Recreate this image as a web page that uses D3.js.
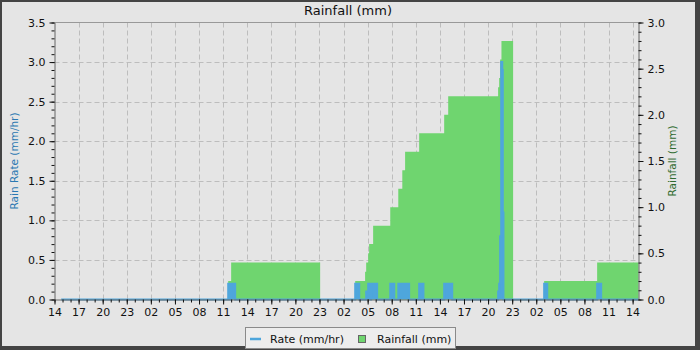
<!DOCTYPE html>
<html>
<head>
<meta charset="utf-8">
<script src="https://cdn.jsdelivr.net/npm/d3@7"></script>
<style>
  html, body { margin: 0; padding: 0; background: #444; }
  svg { display: block; font-family: "DejaVu Sans", sans-serif; }
</style>
</head>
<body>
<div id="viz-container"></div>
<script>
// Rain rate (mm/hr), step values
const rateTimes = [
  "2023-06-12 14:50", "2023-06-13 11:38", "2023-06-13 11:53", "2023-06-13 12:00", "2023-06-13 12:30",
  "2023-06-14 03:27", "2023-06-14 03:57", "2023-06-14 04:49", "2023-06-14 05:04", "2023-06-14 05:19",
  "2023-06-14 05:26", "2023-06-14 06:11", "2023-06-14 07:49", "2023-06-14 08:19", "2023-06-14 08:49",
  "2023-06-14 10:10", "2023-06-14 11:25", "2023-06-14 11:36", "2023-06-14 11:41", "2023-06-14 11:57",
  "2023-06-14 14:32", "2023-06-14 15:32", "2023-06-14 21:15", "2023-06-14 21:23", "2023-06-14 21:30",
  "2023-06-14 21:38", "2023-06-14 21:46", "2023-06-14 21:50", "2023-06-14 21:55",
  "2023-06-15 02:59", "2023-06-15 03:22", "2023-06-15 09:35", "2023-06-15 10:05", "2023-06-15 14:44"
];
const rateValues = [
  0, 0.2, 0, 0.2, 0,
  0.2, 0, 0.1, 0.2, 0,
  0.2, 0, 0.2, 0, 0.2,
  0, 0.2, 0, 0.2, 0,
  0.2, 0, 0.1, 0.2, 0.8,
  3.0, 2.9, 1.1, 0,
  0.2, 0, 0.2, 0, 0
];

// Rainfall (mm), accumulated, step values
const rainTimes = [
  "2023-06-12 14:50", "2023-06-13 11:38", "2023-06-13 12:00", "2023-06-13 23:05",
  "2023-06-14 03:27", "2023-06-14 04:41", "2023-06-14 04:49", "2023-06-14 05:04", "2023-06-14 05:11",
  "2023-06-14 05:41", "2023-06-14 07:49", "2023-06-14 08:49", "2023-06-14 09:19", "2023-06-14 09:40",
  "2023-06-14 11:25", "2023-06-14 14:32", "2023-06-14 15:02", "2023-06-14 21:15", "2023-06-14 21:23",
  "2023-06-14 21:30", "2023-06-14 21:40", "2023-06-14 23:07",
  "2023-06-15 02:59", "2023-06-15 09:35", "2023-06-15 14:44"
];
const rainValues = [
  0, 0.2, 0.4, 0,
  0.2, 0.3, 0.4, 0.5, 0.6,
  0.8, 1.0, 1.2, 1.4, 1.6,
  1.8, 2.0, 2.2, 2.3, 2.4,
  2.6, 2.8, 0,
  0.2, 0.4, 0.4
];

const leftTicks = ["0.0", "0.5", "1.0", "1.5", "2.0", "2.5", "3.0", "3.5"];
const rightTicks = ["0.0", "0.5", "1.0", "1.5", "2.0", "2.5", "3.0"];

const parseTime = d3.timeParse("%Y-%m-%d %H:%M");
const timeStart = parseTime("2023-06-12 14:00");
const timeEnd = parseTime("2023-06-15 14:44");

const rateData = rateTimes.map((t, i) => ({ t: parseTime(t), v: rateValues[i] }));
const rainData = rainTimes.map((t, i) => ({ t: parseTime(t), v: rainValues[i] }));

const W = 700, H = 350;
const plot = { left: 54.5, right: 638.5, top: 22.5, bottom: 299.5 };

const rateColor = "#4ea6dc";
const rainColor = "#6fd56f";
const gridColor = "#bdbdbd";

const svg = d3.select("#viz-container").append("svg")
  .attr("width", W).attr("height", H);

// frame
svg.append("rect").attr("width", W).attr("height", H).attr("fill", "#444");
svg.append("rect").attr("x", 2).attr("y", 2).attr("width", 693).attr("height", 344).attr("fill", "#e5e5e5");

// scales
const x = d3.scaleTime().domain([timeStart, timeEnd]).range([plot.left, plot.right]);
const yLeft = d3.scaleLinear().domain([0, 3.5]).range([plot.bottom, plot.top]);
const yRight = d3.scaleLinear().domain([0, 3.0]).range([plot.bottom, plot.top]);

const majorX = d3.timeHour.range(timeStart, timeEnd, 3);
const minorX = d3.timeHour.range(timeStart, timeEnd);

// grid
const grid = svg.append("g");
grid.selectAll(".vgrid")
  .data(majorX.slice(1)).enter()
  .append("line")
  .attr("x1", d => Math.round(x(d)) + 0.5).attr("x2", d => Math.round(x(d)) + 0.5)
  .attr("y1", plot.top).attr("y2", plot.bottom)
  .style("stroke", gridColor).style("stroke-dasharray", "5,3");
grid.selectAll(".hgrid")
  .data(leftTicks.slice(1, -1).map(Number)).enter()
  .append("line")
  .attr("x1", plot.left).attr("x2", plot.right)
  .attr("y1", d => Math.round(yLeft(d)) + 0.5).attr("y2", d => Math.round(yLeft(d)) + 0.5)
  .style("stroke", gridColor).style("stroke-dasharray", "5,3");

// rainfall area (right axis)
const rainArea = d3.area()
  .x(d => x(d.t))
  .y0(yRight(0))
  .y1(d => yRight(d.v))
  .curve(d3.curveStepAfter);
svg.append("path")
  .attr("d", rainArea(rainData))
  .style("fill", rainColor);

// rate (left axis): dense samples render as solid columns, so fill under the step line
const rateArea = d3.area()
  .x(d => x(d.t))
  .y0(yLeft(0))
  .y1(d => yLeft(d.v))
  .curve(d3.curveStepAfter);
svg.append("path")
  .attr("d", rateArea(rateData))
  .style("fill", rateColor);

const rateLine = d3.line()
  .x(d => x(d.t))
  .y(d => yLeft(d.v))
  .curve(d3.curveStepAfter);
svg.append("path")
  .attr("d", rateLine(rateData))
  .style("fill", "none")
  .style("stroke", rateColor)
  .style("stroke-width", 2);

// top border
svg.append("line")
  .attr("x1", plot.left).attr("x2", plot.right)
  .attr("y1", plot.top).attr("y2", plot.top)
  .style("stroke", "#999");

// axes
const styleAxis = g => {
  g.selectAll("path.domain").style("stroke", "#666");
  g.selectAll("line").style("stroke", "#111");
  g.selectAll("text").style("font-size", "11px").style("fill", "#111")
    .style("font-family", "DejaVu Sans, sans-serif");
};

svg.append("g").attr("transform", `translate(0,${plot.bottom})`)
  .call(d3.axisBottom(x).tickValues(minorX).tickSize(3).tickSizeOuter(0).tickFormat(""))
  .call(styleAxis);
svg.append("g").attr("transform", `translate(0,${plot.bottom})`)
  .call(d3.axisBottom(x).tickValues(majorX).tickSize(5).tickSizeOuter(0).tickPadding(4).tickFormat(d3.timeFormat("%H")))
  .call(g => g.select("path.domain").remove())
  .call(styleAxis);

svg.append("g").attr("transform", `translate(${plot.left},0)`)
  .call(d3.axisLeft(yLeft).tickValues(d3.range(0, 36).map(i => i / 10)).tickSize(3).tickSizeOuter(0).tickFormat(""))
  .call(styleAxis);
svg.append("g").attr("transform", `translate(${plot.left},0)`)
  .call(d3.axisLeft(yLeft).tickValues(leftTicks.map(Number)).tickSize(5).tickPadding(4).tickFormat(d3.format(".1f")))
  .call(g => g.select("path.domain").remove())
  .call(styleAxis);

svg.append("g").attr("transform", `translate(${plot.right},0)`)
  .call(d3.axisRight(yRight).tickValues(d3.range(0, 31).map(i => i / 10)).tickSize(3).tickSizeOuter(0).tickFormat(""))
  .call(styleAxis);
svg.append("g").attr("transform", `translate(${plot.right},0)`)
  .call(d3.axisRight(yRight).tickValues(rightTicks.map(Number)).tickSize(5).tickPadding(4).tickFormat(d3.format(".1f")))
  .call(g => g.select("path.domain").remove())
  .call(styleAxis);

// title
svg.append("text")
  .attr("x", 348).attr("y", 15)
  .attr("text-anchor", "middle")
  .style("font-size", "13px").style("fill", "#111")
  .text("Rainfall (mm)");

// axis titles
svg.append("text")
  .attr("transform", `translate(18,${(plot.top + plot.bottom) / 2}) rotate(-90)`)
  .attr("text-anchor", "middle")
  .style("font-size", "10.5px").style("fill", "#2a78b2")
  .text("Rain Rate (mm/hr)");
svg.append("text")
  .attr("transform", `translate(676,${(plot.top + plot.bottom) / 2}) rotate(-90)`)
  .attr("text-anchor", "middle")
  .style("font-size", "10.5px").style("fill", "#2f6b2f")
  .text("Rainfall (mm)");

// legend
const legend = svg.append("g");
legend.append("rect")
  .attr("x", 245.5).attr("y", 327.5).attr("width", 210).attr("height", 21)
  .style("fill", "#ededed").style("stroke", "#8a8a8a");
legend.append("line")
  .attr("x1", 250).attr("x2", 261).attr("y1", 339).attr("y2", 339)
  .style("stroke", rateColor).style("stroke-width", 2.5);
legend.append("text")
  .attr("x", 270).attr("y", 342.5)
  .style("font-size", "11px").style("fill", "#111")
  .text("Rate (mm/hr)");
legend.append("rect")
  .attr("x", 358.5).attr("y", 335.5).attr("width", 7).attr("height", 7)
  .style("fill", rainColor).style("stroke", "#666");
legend.append("text")
  .attr("x", 377).attr("y", 342.5)
  .style("font-size", "11px").style("fill", "#111")
  .text("Rainfall (mm)");
</script>
</body>
</html>
